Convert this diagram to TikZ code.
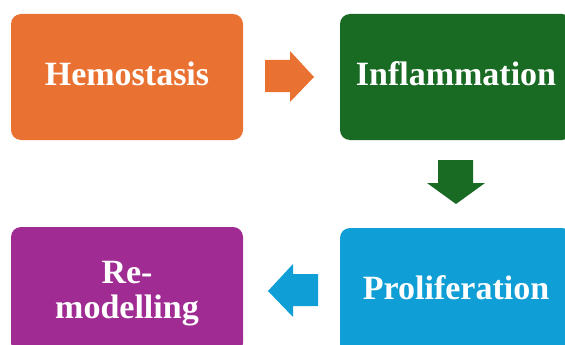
\documentclass[tikz,border=0pt]{standalone}
\usepackage{fontspec}
\setmainfont{Liberation Serif}
\definecolor{corange}{HTML}{E97132}
\definecolor{cgreen}{HTML}{196B24}
\definecolor{cblue}{HTML}{0F9ED5}
\definecolor{cpurple}{HTML}{A02B93}
\begin{document}
\begin{tikzpicture}[x=1pt,y=-1pt,
  box/.style={rectangle, rounded corners=10pt, minimum width=232pt, minimum height=126pt,
    inner sep=0pt, text=white, align=center, font=\bfseries\fontsize{34}{35}\selectfont},
  oneline/.style={text height=23pt, text depth=7pt}]
\useasboundingbox (0,0) rectangle (565,345);
\clip (0,0) rectangle (565,345);
\node[box, oneline, fill=corange] (hemo) at (127,77) {Hemostasis};
\node[box, oneline, fill=cgreen] (infl) at (456,77) {Inflammation};
\node[box, oneline, fill=cblue] (prol) at (456,291) {Proliferation};
\node[box, fill=cpurple] (remo) at (127,290) {};
\node[text=white, align=center, inner sep=0pt, font=\bfseries\fontsize{34}{35}\selectfont] (remotext) at (127,293.5) {Re-\\modelling};
% block arrows
\fill[corange] (265,60) -- (290,60) -- (290,51) -- (314,77) -- (290,102) -- (290,92) -- (265,92) -- cycle;
\fill[cgreen] (438,160) -- (473,160) -- (473,183) -- (485,183) -- (456,204) -- (427,183) -- (438,183) -- cycle;
\fill[cblue] (318,274) -- (293,274) -- (293,264) -- (268,291) -- (293,317) -- (293,306) -- (318,306) -- cycle;
\end{tikzpicture}
\end{document}
